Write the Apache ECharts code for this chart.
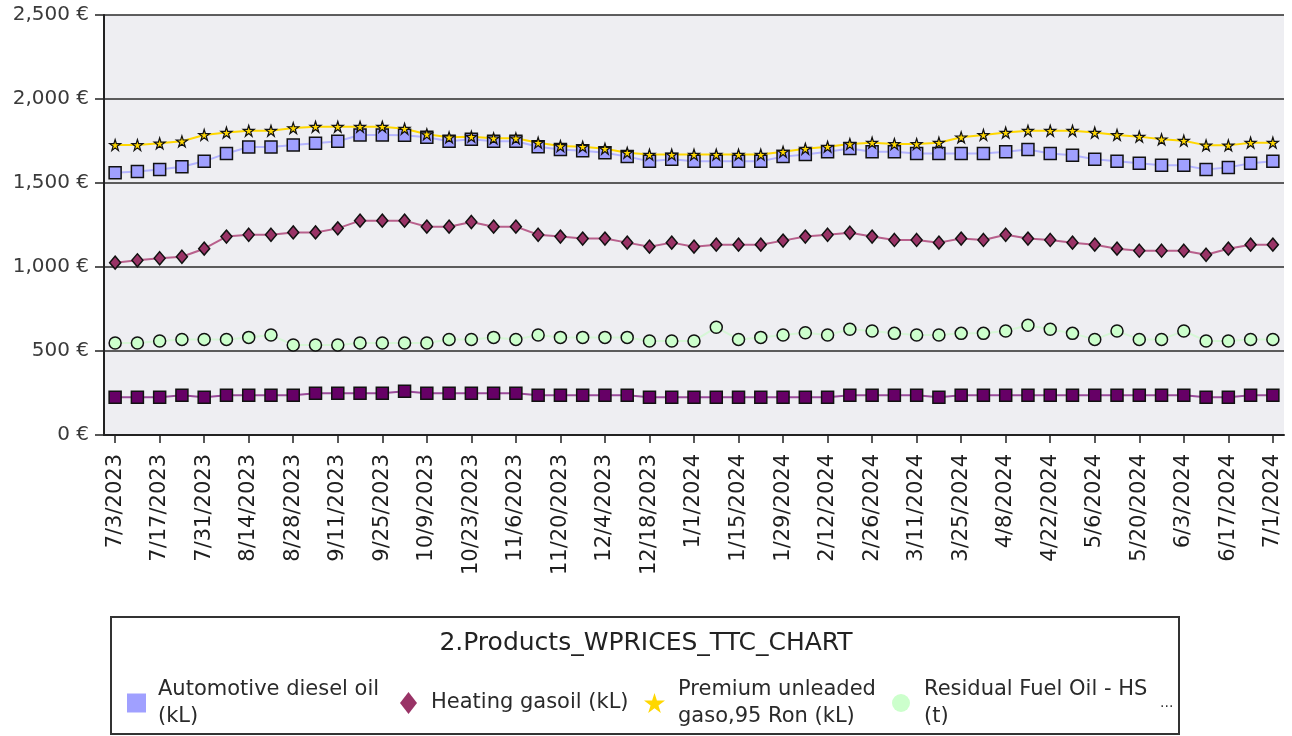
<!DOCTYPE html>
<html>
<head>
<meta charset="utf-8">
<script src="https://cdn.jsdelivr.net/npm/echarts@6/dist/echarts.min.js"></script>
<style>
html,body{margin:0;padding:0;background:#fff;}
#chart{width:1292px;height:736px;}
</style>
</head>
<body>
<div id="chart"></div>
<script>
// ---------- data ----------
const weeks = [
  '7/3/2023','7/10/2023','7/17/2023','7/24/2023','7/31/2023','8/7/2023','8/14/2023','8/21/2023','8/28/2023',
  '9/4/2023','9/11/2023','9/18/2023','9/25/2023','10/2/2023','10/9/2023','10/16/2023','10/23/2023','10/30/2023',
  '11/6/2023','11/13/2023','11/20/2023','11/27/2023','12/4/2023','12/11/2023','12/18/2023','12/25/2023',
  '1/1/2024','1/8/2024','1/15/2024','1/22/2024','1/29/2024','2/5/2024','2/12/2024','2/19/2024','2/26/2024',
  '3/4/2024','3/11/2024','3/18/2024','3/25/2024','4/1/2024','4/8/2024','4/15/2024','4/22/2024','4/29/2024',
  '5/6/2024','5/13/2024','5/20/2024','5/27/2024','6/3/2024','6/10/2024','6/17/2024','6/24/2024','7/1/2024'
];

const dieselOil = [
  1561,1569,1581,1597,1629,1676,1714,1714,1726,1736,1748,1786,1786,1784,1772,1748,1760,1748,1748,1716,
  1700,1692,1680,1657,1629,1641,1629,1629,1629,1629,1657,1669,1686,1705,1686,1686,1676,1676,1676,1676,
  1686,1700,1676,1665,1641,1629,1617,1605,1605,1581,1593,1617,1629
];

const heatingGasoil = [
  1026,1040,1052,1061,1109,1181,1192,1192,1206,1206,1230,1276,1276,1276,1240,1240,1268,1240,1240,1192,
  1181,1169,1169,1145,1121,1145,1121,1133,1133,1133,1157,1181,1192,1204,1181,1161,1161,1145,1169,1161,
  1192,1169,1161,1145,1133,1109,1097,1097,1097,1073,1109,1133,1133
];

const premiumUnleaded = [
  1726,1726,1736,1748,1786,1800,1811,1811,1827,1835,1835,1835,1835,1823,1790,1772,1776,1766,1766,1740,
  1720,1716,1704,1680,1669,1669,1669,1669,1669,1669,1686,1704,1716,1732,1740,1732,1732,1740,1772,1786,
  1800,1811,1811,1811,1800,1786,1776,1760,1752,1724,1724,1740,1740
];

const residualHS = [
  548,548,560,569,569,569,581,595,536,536,536,548,548,548,548,569,569,581,569,595,
  581,581,581,581,560,560,560,641,569,581,595,609,595,629,619,605,595,595,605,605,
  619,653,629,605,569,619,569,569,619,560,560,569,569
];

const series5 = [
  224,224,224,236,224,236,236,236,236,248,248,248,248,260,248,248,248,248,248,236,
  236,236,236,236,224,224,224,224,224,224,224,224,224,236,236,236,236,224,236,236,
  236,236,236,236,236,236,236,236,236,224,224,236,236
];

const seriesNames = [
  'Automotive diesel oil (kL)',
  'Heating gasoil (kL)',
  'Premium unleaded gaso,95 Ron (kL)',
  'Residual Fuel Oil - HS (t)',
  'Series 5'
];
const legendLabels = [
  'Automotive diesel oil\n(kL)',
  'Heating gasoil (kL)',
  'Premium unleaded\ngaso,95 Ron (kL)',
  'Residual Fuel Oil - HS\n(t)'
];
const yTicks = [0, 500, 1000, 1500, 2000, 2500];
const chartTitle = '2.Products_WPRICES_TTC_CHART';

// ---------- chart ----------
const FONT = 'DejaVu Sans';
const STAR = 'path://M50,0 L61,35 L98,35 L68,57 L79,92 L50,70 L21,92 L32,57 L2,35 L39,35 Z';
const chart = echarts.init(document.getElementById('chart'), null, {renderer: 'canvas'});

function fmtEuro(v) {
  return v.toLocaleString('en-US') + ' €';
}

const markerBorder = {borderColor: '#111', borderWidth: 1.5};

function legendBlock(idx, left, top, icon, color, w, h, padLeft, keepAspect) {
  return {
    data: [{name: seriesNames[idx], icon: icon, itemStyle: {color: color, borderWidth: 0}}],
    left: left, top: top, padding: 0,
    itemWidth: w, itemHeight: h,
    symbolKeepAspect: keepAspect,
    selectedMode: false,
    formatter: function () { return legendLabels[idx]; },
    textStyle: {fontFamily: FONT, fontSize: 21, lineHeight: 27, color: '#2a2a2a', padding: [0, 0, 0, padLeft]}
  };
}

const option = {
  animation: false,
  backgroundColor: '#ffffff',
  title: {
    text: chartTitle,
    left: 'center',
    top: 631,
    padding: 0,
    textStyle: {fontFamily: FONT, fontSize: 25, fontWeight: 'normal', color: '#222'}
  },
  legend: [
    legendBlock(0, 127, 676, 'rect', '#A0A0FF', 19, 19, 7, true),
    legendBlock(1, 400, 689.5, 'diamond', '#993366', 17, 22, 9, false),
    legendBlock(2, 644, 676, STAR, '#FFD700', 21, 21, 8, true),
    legendBlock(3, 892, 676, 'circle', '#CCFFCC', 18, 18, 9, true)
  ],
  graphic: [
    {
      type: 'rect',
      shape: {x: 111, y: 617, width: 1068, height: 117},
      style: {fill: 'none', stroke: '#333', lineWidth: 2},
      silent: true
    },
    {
      type: 'text',
      x: 1160, y: 696,
      style: {text: '...', fontFamily: FONT, fontSize: 14, fill: '#333'},
      silent: true
    }
  ],
  grid: {
    left: 104, right: 8, top: 15, bottom: 301,
    show: true, backgroundColor: '#EEEEF2', borderWidth: 0
  },
  xAxis: {
    type: 'category',
    data: weeks,
    boundaryGap: true,
    axisLine: {show: true, lineStyle: {color: '#222', width: 2}},
    axisTick: {show: true, interval: 1, alignWithLabel: true, length: 8, lineStyle: {color: '#222', width: 1.5}},
    axisLabel: {
      interval: 1, rotate: 90, margin: 19,
      fontFamily: FONT, fontSize: 21, color: '#1e1e1e'
    },
    splitLine: {show: false}
  },
  yAxis: {
    type: 'value',
    min: yTicks[0], max: yTicks[yTicks.length - 1], interval: 500,
    axisLine: {show: true, lineStyle: {color: '#222', width: 2}},
    axisTick: {show: true, length: 9, lineStyle: {color: '#222', width: 1.5}},
    axisLabel: {
      margin: 15, fontFamily: FONT, fontSize: 20, color: '#3a3a3a',
      formatter: fmtEuro
    },
    splitLine: {show: true, lineStyle: {color: '#2a2a2a', width: 1.5}}
  },
  series: [
    {
      name: seriesNames[0], type: 'line', data: dieselOil,
      symbol: 'rect', symbolSize: 12,
      lineStyle: {color: '#B4B4FF', width: 2},
      itemStyle: Object.assign({color: '#A0A0FF'}, markerBorder)
    },
    {
      name: seriesNames[1], type: 'line', data: heatingGasoil,
      symbol: 'diamond', symbolSize: [11, 13],
      lineStyle: {color: '#B8608C', width: 2},
      itemStyle: Object.assign({color: '#993366'}, markerBorder)
    },
    {
      name: seriesNames[2], type: 'line', data: premiumUnleaded,
      symbol: STAR, symbolSize: 11,
      lineStyle: {color: '#FFD700', width: 2},
      itemStyle: {color: '#FFD700', borderColor: '#111', borderWidth: 1.2}
    },
    {
      name: seriesNames[3], type: 'line', data: residualHS,
      symbol: 'circle', symbolSize: 12,
      lineStyle: {color: '#D6F7D6', width: 2},
      itemStyle: Object.assign({color: '#CCFFCC'}, markerBorder)
    },
    {
      name: seriesNames[4], type: 'line', data: series5,
      symbol: 'rect', symbolSize: 12,
      lineStyle: {color: '#9A4A9A', width: 2},
      itemStyle: Object.assign({color: '#660066'}, markerBorder)
    }
  ]
};

chart.setOption(option);
</script>
</body>
</html>
